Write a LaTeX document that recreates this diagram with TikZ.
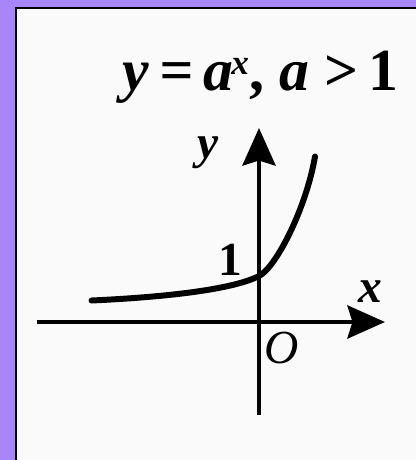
\documentclass[tikz,border=0pt]{standalone}
\usepackage{fontspec}
\setmainfont{Liberation Serif}
\usepackage{xcolor}
\usepackage{tikz}
\usetikzlibrary{arrows.meta,positioning,calc}
\definecolor{fondviolet}{HTML}{A886F8}
\definecolor{papier}{HTML}{FAFAFA}

\begin{document}
\begin{tikzpicture}[
    x=1cm,y=1cm,
    axe/.style    = {-{Stealth[length=7.5mm,width=6.6mm,inset=1mm]},black,line width=2.6pt},
    courbe/.style = {black,line width=3.4pt,line cap=round},
    lab/.style    = {font=\fontsize{27}{29}\selectfont\bfseries\itshape,inner sep=0pt},
  ]

  \useasboundingbox (-5.18,-2.76) rectangle (3.14,6.44);
  \fill[fondviolet] (-5.18,-2.76) rectangle (3.14,6.44);
  \fill[papier] (-4.86,-2.76) rectangle (3.14,6.28);
  \draw[black,line width=1.2pt] (-4.86,-2.76) -- (-4.86,6.28) -- (3.14,6.28);

  \coordinate (O) at (0,0);
  \coordinate (xdeb) at (-4.44,0);
  \coordinate (xfin) at (2.52,0);
  \coordinate (ydeb) at (0,-1.86);
  \coordinate (yfin) at (0,3.88);

  \draw[axe] (xdeb) -- (xfin);
  \draw[axe] (ydeb) -- (yfin);

  % courbe exponentielle
  \draw[courbe] (-3.35,0.43) .. controls (-1.8,0.5) and (-0.5,0.66) .. (0,0.92)
                .. controls (0.35,1.1) and (0.95,2.3) .. (1.12,3.31);

  \node[font=\fontsize{34}{38}\selectfont\bfseries] (titre) at (0.03,4.9)
       {\itshape y\,=\,a\textsuperscript{\kern-1pt\fontsize{20}{22}\selectfont x}\upshape, \itshape a \upshape>\,1};

  \node[lab] (ylab) at (-1.02,3.38) {y};
  \node[lab] (xlab) at (2.22,0.6) {x};
  \node[lab,font=\fontsize{27}{29}\selectfont\itshape] (orig) at (0.46,-0.52) {O};
  \node[lab,font=\fontsize{27}{29}\selectfont\bfseries] (un) at (-0.58,1.24) {1};

\end{tikzpicture}
\end{document}
